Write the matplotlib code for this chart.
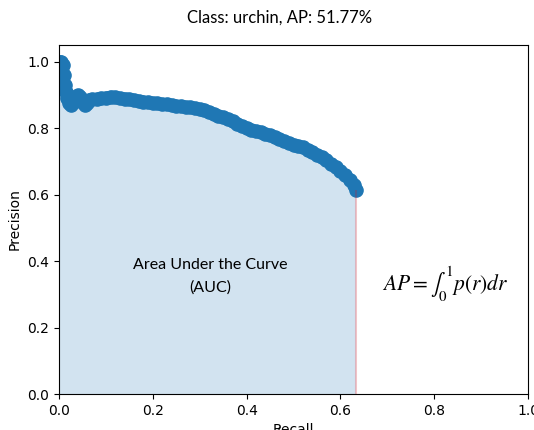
import matplotlib
matplotlib.use("Agg")
import matplotlib.pyplot as plt

title = "Class: urchin, AP: 51.77%"
recall = [0.0, 0.002, 0.005, 0.008, 0.010, 0.012, 0.015, 0.018, 0.022, 0.026,
          0.030, 0.035, 0.040, 0.045, 0.050, 0.055, 0.060, 0.065, 0.070, 0.080,
          0.090, 0.100, 0.110, 0.120, 0.130, 0.140, 0.150, 0.160, 0.170, 0.180,
          0.190, 0.200, 0.210, 0.220, 0.230, 0.240, 0.250, 0.260, 0.270, 0.280,
          0.290, 0.300, 0.310, 0.320, 0.330, 0.340, 0.350, 0.360, 0.370, 0.380,
          0.390, 0.400, 0.410, 0.420, 0.430, 0.440, 0.450, 0.460, 0.470, 0.480,
          0.490, 0.500, 0.510, 0.520, 0.530, 0.540, 0.550, 0.560, 0.570, 0.580,
          0.590, 0.600, 0.610, 0.620, 0.628, 0.633]
precision = [0.95, 1.0, 1.0, 0.99, 0.96, 0.93, 0.91, 0.89, 0.875, 0.87,
             0.88, 0.895, 0.90, 0.895, 0.88, 0.87, 0.875, 0.885, 0.887, 0.888,
             0.89, 0.892, 0.895, 0.893, 0.89, 0.889, 0.888, 0.885, 0.882, 0.880,
             0.878, 0.876, 0.874, 0.872, 0.871, 0.869, 0.867, 0.866, 0.864, 0.862,
             0.86, 0.857, 0.854, 0.849, 0.843, 0.837, 0.832, 0.826, 0.82, 0.813,
             0.806, 0.80, 0.795, 0.791, 0.787, 0.783, 0.778, 0.772, 0.766, 0.76,
             0.755, 0.75, 0.746, 0.742, 0.735, 0.728, 0.72, 0.712, 0.703, 0.693,
             0.682, 0.671, 0.66, 0.645, 0.63, 0.615]
xticks = [0.0, 0.2, 0.4, 0.6, 0.8, 1.0]
yticks = [0.0, 0.2, 0.4, 0.6, 0.8, 1.0]

plt.rcParams["mathtext.fontset"] = "stix"
fig = plt.figure(figsize=(5.34, 4.30), dpi=100)
ax = fig.add_axes([59 / 534, 1 - 394 / 430, 469 / 534, 349 / 430])

ax.fill_between(recall, precision, color="C0", alpha=0.2, linewidth=0)
ax.plot(recall, precision, color="C0", linewidth=8.5, solid_capstyle="round",
        solid_joinstyle="round", marker="o", markersize=9.5)
ax.vlines(recall[-1], 0, precision[-1], color="red", alpha=0.2, linewidth=1.5)

ax.set_xlim(0, 1.0)
ax.set_ylim(0, 1.05)
ax.set_xticks(xticks)
ax.set_yticks(yticks)
ax.tick_params(labelsize=10)
ax.set_xlabel("Recall", fontsize=10)
ax.set_ylabel("Precision", fontsize=10)
fig.text(280 / 534, 1 - 18 / 430, title, ha="center", va="center",
         fontsize=12, family="Lato")

ax.text(0.322, 0.355, "Area Under the Curve\n(AUC)", ha="center", va="center",
        fontsize=11.5, family="Lato", linespacing=1.75)
ax.text(0.823, 0.33, r"$AP = \int_0^1 p(r)dr$", ha="center", va="center",
        fontsize=15.5)

fig.savefig("out.png", dpi=100)
